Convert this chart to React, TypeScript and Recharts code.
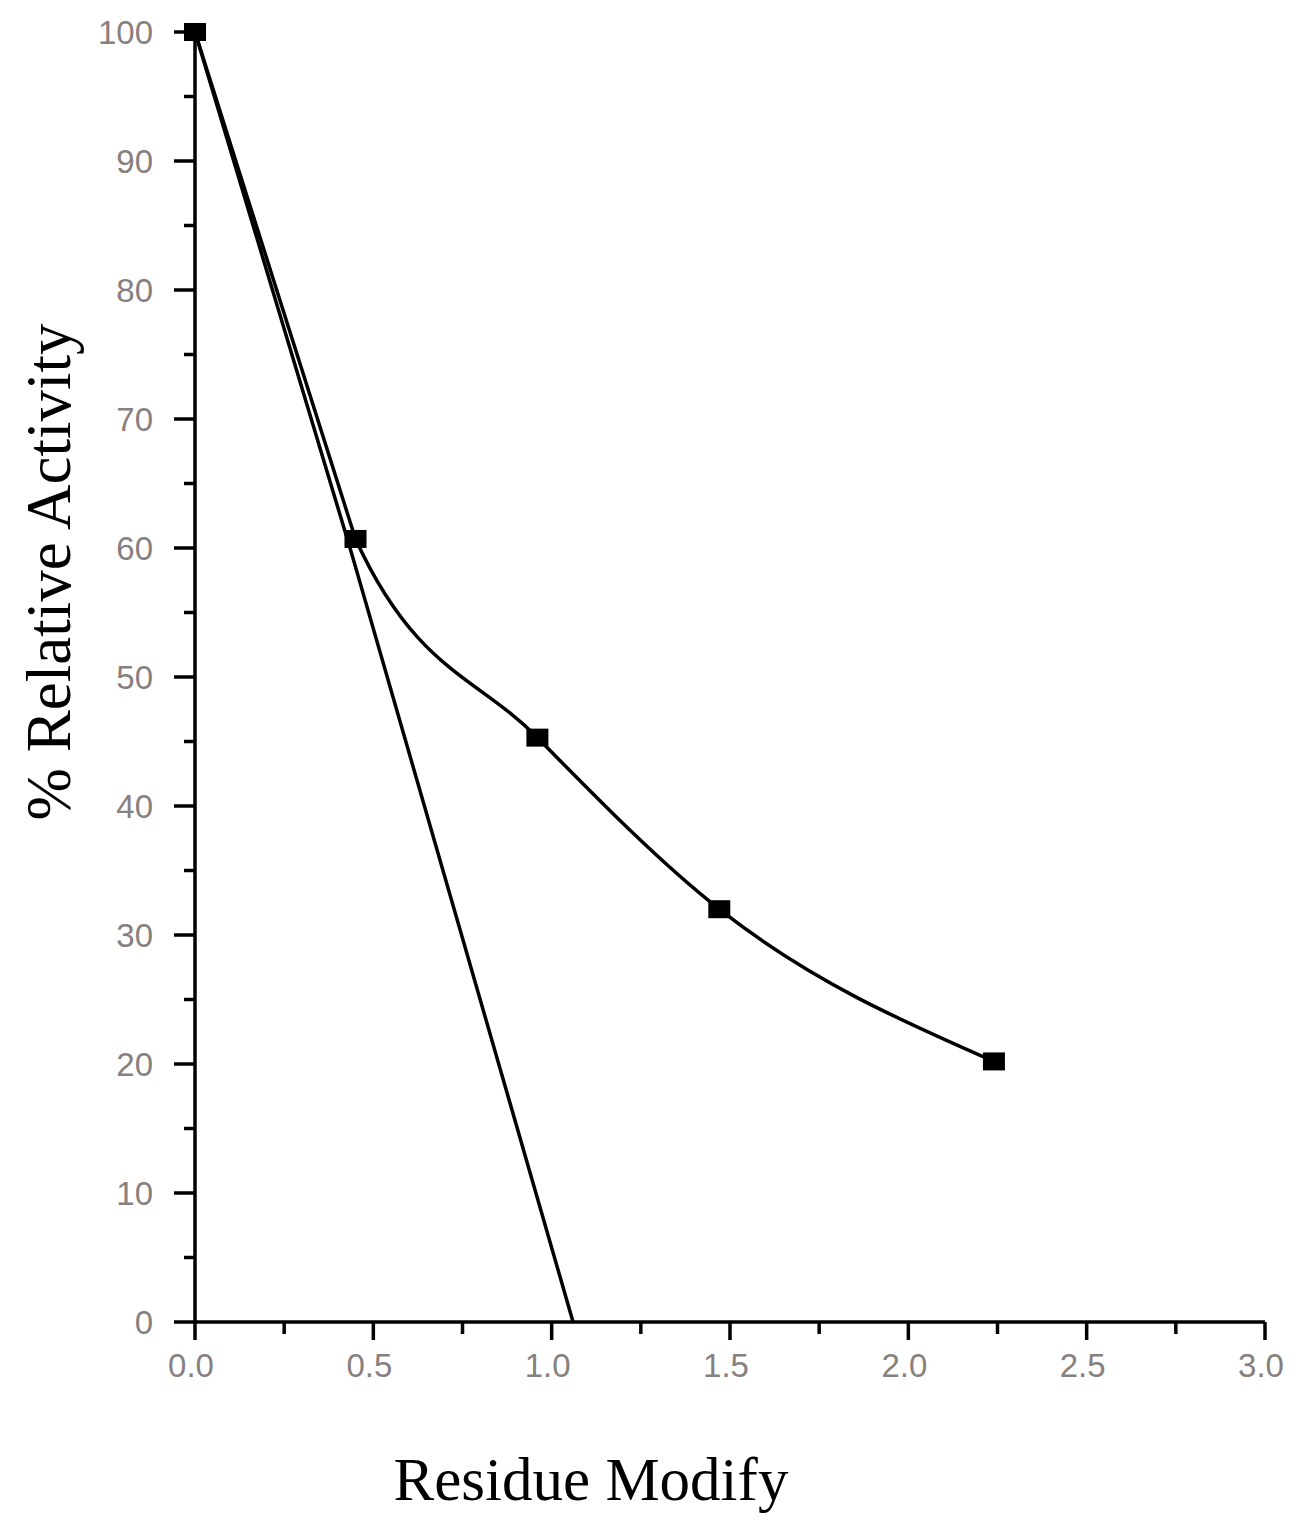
import React from "react";
import { LineChart, Line, XAxis, YAxis, Label } from "recharts";

// measured points (square markers)
const modifiedX = [0, 0.45, 0.96, 1.47, 2.24];
const modifiedActivity = [100, 60.7, 45.3, 32.0, 20.2];

// extrapolated straight line down to the x axis
const fitX = [0, 0.44, 1.06];
const fitActivity = [100, 59.5, 0];

const xTicks = [0, 0.25, 0.5, 0.75, 1, 1.25, 1.5, 1.75, 2, 2.25, 2.5, 2.75, 3];
const yTicks = [0, 5, 10, 15, 20, 25, 30, 35, 40, 45, 50, 55, 60, 65, 70, 75, 80, 85, 90, 95, 100];

const modifiedData = modifiedX.map((x, i) => ({ x, y: modifiedActivity[i] }));
const fitData = fitX.map((x, i) => ({ x, y: fitActivity[i] }));

const tickFont = "'Liberation Sans', Arial, sans-serif";
const tickColor = "#877f80";
const titleFont = "'Liberation Serif', 'Times New Roman', serif";

// first segment straight, rest smoothed like d3 monotoneX
const straightThenMonotone = (context: any) => {
  let pts: number[][] = [];
  return {
    areaStart() {},
    areaEnd() {},
    lineStart() {
      pts = [];
    },
    point(x: number, y: number) {
      pts.push([+x, +y]);
    },
    lineEnd() {
      const n = pts.length;
      if (n === 0) return;
      context.moveTo(pts[0][0], pts[0][1]);
      if (n === 1) return;
      const slope = (i: number) => (pts[i + 1][1] - pts[i][1]) / (pts[i + 1][0] - pts[i][0]);
      const sign = (v: number) => (v < 0 ? -1 : 1);
      const t: number[] = new Array(n).fill(0);
      for (let i = 1; i < n - 1; i++) {
        const h0 = pts[i][0] - pts[i - 1][0];
        const h1 = pts[i + 1][0] - pts[i][0];
        const s0 = slope(i - 1);
        const s1 = slope(i);
        const p = (s0 * h1 + s1 * h0) / (h0 + h1);
        t[i] = (sign(s0) + sign(s1)) * Math.min(Math.abs(s0), Math.abs(s1), 0.5 * Math.abs(p)) || 0;
      }
      t[n - 1] = n > 2 ? (3 * slope(n - 2) - t[n - 2]) / 2 : slope(0);
      context.lineTo(pts[1][0], pts[1][1]);
      for (let i = 1; i < n - 1; i++) {
        const [x0, y0] = pts[i];
        const [x1, y1] = pts[i + 1];
        const dx = (x1 - x0) / 3;
        context.bezierCurveTo(x0 + dx, y0 + dx * t[i], x1 - dx, y1 - dx * t[i + 1], x1, y1);
      }
    },
  };
};

const YTick = (props: any) => {
  const { x, y, payload } = props;
  const major = payload.value % 10 === 0;
  return (
    <g>
      <line x1={x} x2={x - (major ? 21 : 11)} y1={y} y2={y} stroke="#000" strokeWidth={3.5} />
      {major && (
        <text
          x={x - 42}
          y={y}
          dy="0.36em"
          textAnchor="end"
          fontFamily={tickFont}
          fontSize={33}
          fill={tickColor}
        >
          {payload.value}
        </text>
      )}
    </g>
  );
};

const XTick = (props: any) => {
  const { x, y, payload } = props;
  const major = Math.abs(payload.value * 2 - Math.round(payload.value * 2)) < 1e-6;
  return (
    <g>
      <line x1={x} x2={x} y1={y} y2={y + (major ? 18 : 12)} stroke="#000" strokeWidth={3.5} />
      {major && (
        <text
          x={x - 4}
          y={y + 55}
          textAnchor="middle"
          fontFamily={tickFont}
          fontSize={33}
          fill={tickColor}
        >
          {payload.value.toFixed(1)}
        </text>
      )}
    </g>
  );
};

const Square = (props: any) => {
  const { cx, cy } = props;
  if (cx == null || cy == null) return null;
  return <rect x={cx - 11} y={cy - 9} width={22} height={18} fill="#000" />;
};

const XTitle = (props: any) => {
  const { viewBox } = props;
  return (
    <text
      x={viewBox.x + 396}
      y={viewBox.y + 178}
      textAnchor="middle"
      fontFamily={titleFont}
      fontSize={61}
      fill="#000"
    >
      Residue Modify
    </text>
  );
};

const YTitle = (props: any) => {
  const { viewBox } = props;
  const cx = 62;
  const cy = viewBox.y + viewBox.height / 2 - 105;
  return (
    <text
      x={cx}
      y={cy}
      transform={`rotate(-90, ${cx}, ${cy})`}
      textAnchor="middle"
      fontFamily={titleFont}
      fontSize={63}
      fill="#000"
    >
      % Relative Activity
    </text>
  );
};

export default function App() {
  return (
    <div style={{ width: 1288, height: 1515, background: "#fff" }}>
      <LineChart
        width={1288}
        height={1515}
        margin={{ top: 24, right: 31, left: 0, bottom: 141 }}
      >
        <XAxis
          type="number"
          dataKey="x"
          domain={[0, 3]}
          ticks={xTicks}
          interval={0}
          height={60}
          tickSize={0}
          tickMargin={0}
          tickLine={false}
          tick={<XTick />}
          axisLine={{ stroke: "#000", strokeWidth: 3.5 }}
        >
          <Label content={<XTitle />} />
        </XAxis>
        <YAxis
          type="number"
          dataKey="y"
          domain={[0, 100]}
          ticks={yTicks}
          interval={0}
          width={187}
          tickSize={0}
          tickMargin={0}
          tickLine={false}
          tick={<YTick />}
          axisLine={{ stroke: "#000", strokeWidth: 3.5 }}
        >
          <Label content={<YTitle />} />
        </YAxis>
        <Line
          data={fitData}
          dataKey="y"
          type="linear"
          stroke="#000"
          strokeWidth={3.5}
          dot={false}
          activeDot={false}
          isAnimationActive={false}
        />
        <Line
          data={modifiedData}
          dataKey="y"
          type={straightThenMonotone as any}
          stroke="#000"
          strokeWidth={3.5}
          dot={<Square />}
          activeDot={false}
          isAnimationActive={false}
        />
      </LineChart>
    </div>
  );
}
